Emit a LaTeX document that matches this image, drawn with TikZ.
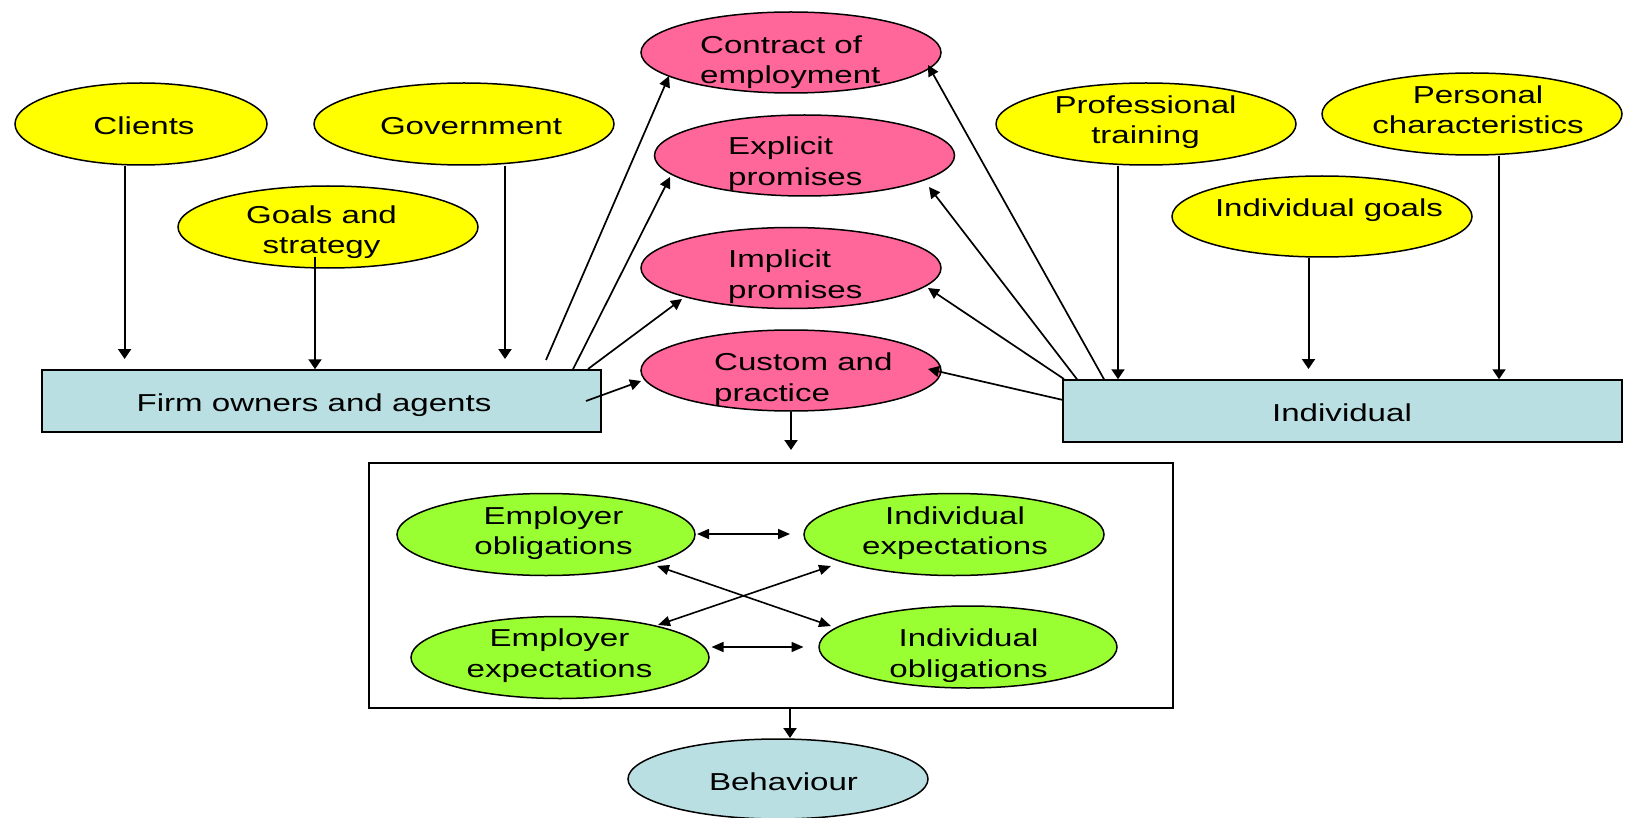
\documentclass[tikz,border=0pt]{standalone}
\usepackage{fontspec}
\setmainfont{Liberation Sans}[FakeStretch=1.35]
\usetikzlibrary{arrows.meta,shapes.geometric}
\definecolor{yel}{RGB}{255,255,0}
\definecolor{pnk}{RGB}{255,102,153}
\definecolor{lblue}{RGB}{185,223,227}
\definecolor{grn}{RGB}{153,255,51}
\newcommand{\mlines}[2][c]{\begin{tabular}[t]{@{}#1@{}}#2\end{tabular}}
\begin{document}
\begin{tikzpicture}[x=1pt,y=-1pt,
  ell/.style={ellipse,draw=black,line width=1.5pt,inner sep=0pt,minimum width=300pt,minimum height=82pt},
  yell/.style={ell,fill=yel},
  pell/.style={ell,fill=pnk},
  gell/.style={ell,fill=grn},
  bell/.style={ell,fill=lblue},
  bbox/.style={rectangle,draw=black,line width=1.5pt,fill=lblue,inner sep=0pt,minimum width=559pt,minimum height=62pt},
  frame/.style={rectangle,draw=black,line width=1.5pt,inner sep=0pt},
  txt/.style={inner sep=0pt,font=\fontsize{24.5}{30.5}\selectfont},
  varr/.style={line width=2pt,-{Triangle[length=10pt,width=13pt]}},
  arr/.style={line width=1.7pt,-{Triangle[length=11pt,width=11pt]}},
  darr/.style={line width=1.6pt,{Triangle[length=12pt,width=10pt]}-{Triangle[length=12pt,width=10pt]}}]
\useasboundingbox (0,0) rectangle (1629,818);
\clip (0,0) rectangle (1629,818);

% left yellow ellipses
\node[yell,minimum width=252pt] (clients) at (141,124) {};
\node[txt,anchor=base] (clients-t) at (144,135) {Clients};
\node[yell] (gov) at (464,124) {};
\node[txt,anchor=base] (gov-t) at (471,135) {Government};
\node[yell] (goals) at (328,227) {};
\node[txt,anchor=base] (goals-t) at (321.5,223.3) {\mlines{Goals and\\strategy}};

% pink ellipses
\node[pell,minimum height=81pt] (contract) at (791,52.5) {};
\node[txt,anchor=base west] (contract-t) at (700,53.3) {\mlines[l]{Contract of\\employment}};
\node[pell,minimum height=81pt] (explicit) at (804.5,155.5) {};
\node[txt,anchor=base west] (explicit-t) at (728,155) {\mlines[l]{Explicit\\promises}};
\node[pell,minimum height=81pt] (implicit) at (791,268) {};
\node[txt,anchor=base west] (implicit-t) at (728,267.7) {\mlines[l]{Implicit\\promises}};
\node[pell,minimum height=81pt] (custom) at (791,370.5) {};
\node[txt,anchor=base west] (custom-t) at (714,370.7) {\mlines[l]{Custom and\\practice}};

% right yellow ellipses
\node[yell] (prof) at (1146,124) {};
\node[txt,anchor=base] (prof-t) at (1145.5,113.3) {\mlines{Professional\\training}};
\node[yell] (personal) at (1472,114) {};
\node[txt,anchor=base] (personal-t) at (1478,103.3) {\mlines{Personal\\characteristics}};
\node[yell,minimum height=81pt] (indgoals) at (1322,216.5) {};
\node[txt,anchor=base] (indgoals-t) at (1329,216.7) {Individual goals};

% boxes
\node[bbox] (firm) at (321.5,401) {};
\node[txt,anchor=base] (firm-t) at (314,411) {Firm owners and agents};
\node[bbox] (ind) at (1342.5,411) {};
\node[txt,anchor=base] (ind-t) at (1342,421.7) {Individual};

% central frame
\node[frame,minimum width=804pt,minimum height=245pt] (frame) at (771,585.5) {};
\node[gell,minimum width=298pt] (eo) at (546,534.5) {};
\node[txt,anchor=base] (eo-t) at (553.5,524) {\mlines{Employer\\obligations}};
\node[gell] (ie) at (954,534.5) {};
\node[txt,anchor=base] (ie-t) at (955,524) {\mlines{Individual\\expectations}};
\node[gell,minimum width=298pt] (ee) at (560,657.5) {};
\node[txt,anchor=base] (ee-t) at (559.5,646.7) {\mlines{Employer\\expectations}};
\node[gell,minimum width=298pt] (io) at (968,647) {};
\node[txt,anchor=base] (io-t) at (968.5,646.7) {\mlines{Individual\\obligations}};

% behaviour
\node[bell,minimum height=80pt] (beh) at (778,779) {};
\node[txt,anchor=base] (beh-t) at (783.5,790) {Behaviour};

% coordinates for free ends
\coordinate (a1) at (124.6,359);
\coordinate (a2) at (315,257);
\coordinate (a3) at (505,359);
\coordinate (fc0) at (546,360);  \coordinate (fc1) at (669,76);
\coordinate (fe0) at (573,370);  \coordinate (fe1) at (670,177);
\coordinate (fi0) at (588,369);  \coordinate (fi1) at (682,299);
\coordinate (fp0) at (586,401);  \coordinate (fp1) at (641,381);
\coordinate (ic0) at (1104,380); \coordinate (ic1) at (928,65);
\coordinate (ie0) at (1077,380); \coordinate (ie1) at (929,187);
\coordinate (ii0) at (1064,379); \coordinate (ii1) at (928,288);
\coordinate (ip0) at (1063,400); \coordinate (ip1) at (928,369);
\coordinate (pt) at (1118,380);
\coordinate (gt) at (1308.5,369);
\coordinate (pe) at (1499,380);
\coordinate (cb) at (791,450);
\coordinate (bb) at (790,738);
\coordinate (d1a) at (697,534);  \coordinate (d1b) at (790,534);
\coordinate (d2a) at (711.5,647); \coordinate (d2b) at (803.5,647);
\coordinate (x1a) at (657,566);  \coordinate (x1b) at (831,626);
\coordinate (x2a) at (658,625);  \coordinate (x2b) at (831,566);

% left inputs
\draw[varr] (clients.south -| a1) -- (a1);
\draw[varr] (a2) -- (a2 |- firm.north);
\draw[varr] (gov.south -| a3) -- (a3);

% firm to pink
\draw[arr] (fc0) -- (fc1);
\draw[arr] (fe0 |- firm.north) -- (fe1);
\draw[arr] (fi0) -- (fi1);
\draw[arr] (fp0) -- (fp1);

% individual to pink
\draw[arr] (ic0 |- ind.north) -- (ic1);
\draw[arr] (ie0 |- ind.north) -- (ie1);
\draw[arr] (ii0) -- (ii1);
\draw[arr] (ip0) -- (ip1);

% right inputs
\draw[varr] (prof.south -| pt) -- (pt |- ind.north);
\draw[varr] (indgoals.south -| gt) -- (gt);
\draw[varr] (personal.south -| pe) -- (pe |- ind.north);

% down arrows
\draw[varr] (custom.south -| cb) -- (cb);
\draw[varr] (bb |- frame.south) -- (bb);

% inside frame
\draw[darr] (d1a) -- (d1b);
\draw[darr] (d2a) -- (d2b);
\draw[darr] (x1a) -- (x1b);
\draw[darr] (x2a) -- (x2b);
\end{tikzpicture}
\end{document}
